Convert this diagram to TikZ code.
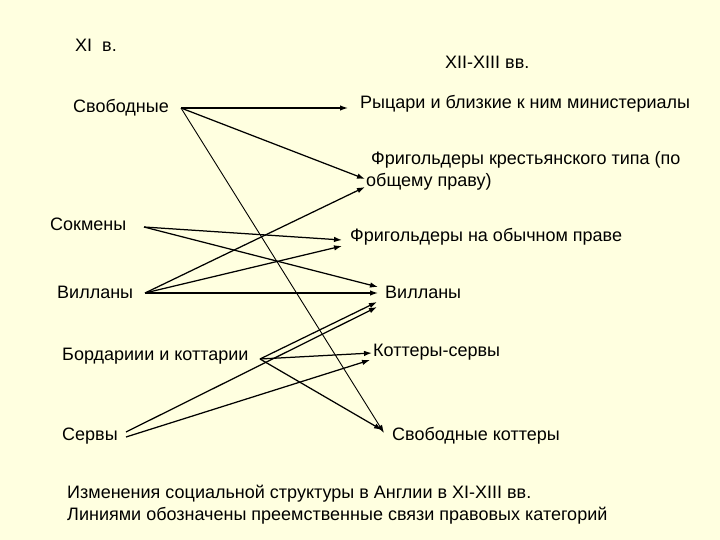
\documentclass[tikz,border=0pt]{standalone}
\usepackage{fontspec}
\setmainfont{Liberation Sans}
\usetikzlibrary{arrows.meta}
\definecolor{bgcol}{RGB}{255,255,224}
\tikzset{
  lbl/.style={anchor=west, inner sep=0pt, font=\fontsize{18}{22}\selectfont, text=black},
  conn/.style={draw=black, line width=1.25pt, -{Latex[length=8pt,width=5.5pt]}},
  thinconn/.style={conn, line width=0.9pt}
}
\begin{document}
\begin{tikzpicture}[x=1pt,y=-1pt]
\fill[bgcol] (0,0) rectangle (720,540);
\useasboundingbox (0,0) rectangle (720,540);
% labels
\node[lbl] (xi) at (75,45) {XI\ \ в.};
\node[lbl] (xii) at (445,62) {XII-XIII вв.};
\node[lbl] (svob) at (73,108) {Свободные};
\node[lbl] (rycari) at (360,104) {Рыцари и близкие к ним министериалы};
\node[lbl, align=left] (frkr) at (366,171) {\ Фригольдеры крестьянского типа (по\\общему праву)};
\node[lbl] (sokm) at (50,224) {Сокмены};
\node[lbl] (frob) at (350,237) {Фригольдеры на обычном праве};
\node[lbl] (villL) at (57,292) {Вилланы};
\node[lbl] (villR) at (385,292) {Вилланы};
\node[lbl] (bord) at (62,356) {Бордариии и коттарии};
\node[lbl] (kotser) at (373,352) {Коттеры-сервы};
\node[lbl] (serv) at (62,436) {Сервы};
\node[lbl] (svkot) at (392,436) {Свободные коттеры};
\node[lbl, align=left] (capt) at (67,505) {Изменения социальной структуры в Англии в XI-XIII вв.\\Линиями обозначены преемственные связи правовых категорий};
% connector ends
\coordinate (svoS) at (181,108);
\coordinate (sokS) at (144,227);
\coordinate (vilS) at (145,293);
\coordinate (borS) at (260,359);
\coordinate (serS1) at (126,432);
\coordinate (serS2) at (126,437);
\coordinate (rycE) at (348,108);
\coordinate (frkE1) at (365,179);
\coordinate (frkE2) at (365,187);
\coordinate (froE1) at (342,240);
\coordinate (froE2) at (342,246);
\coordinate (vilE1) at (378,287);
\coordinate (vilE2) at (378,293);
\coordinate (vilE3) at (377,302);
\coordinate (vilE4) at (377,307);
\coordinate (kotE1) at (372,353);
\coordinate (kotE2) at (370,360);
\coordinate (skE1) at (382,430);
\coordinate (skE2) at (384,433);
% connectors
\draw[conn] (svoS) -- (rycE);
\draw[conn] (svoS) -- (frkE1);
\draw[thinconn] (svoS) -- (skE2);
\draw[conn] (sokS) -- (froE1);
\draw[conn] (sokS) -- (vilE1);
\draw[conn] (vilS) -- (frkE2);
\draw[conn] (vilS) -- (froE2);
\draw[conn] (vilS) -- (vilE2);
\draw[conn] (borS) -- (vilE3);
\draw[conn] (borS) -- (kotE1);
\draw[conn] (borS) -- (skE1);
\draw[conn] (serS1) -- (vilE4);
\draw[conn] (serS2) -- (kotE2);
\end{tikzpicture}
\end{document}
